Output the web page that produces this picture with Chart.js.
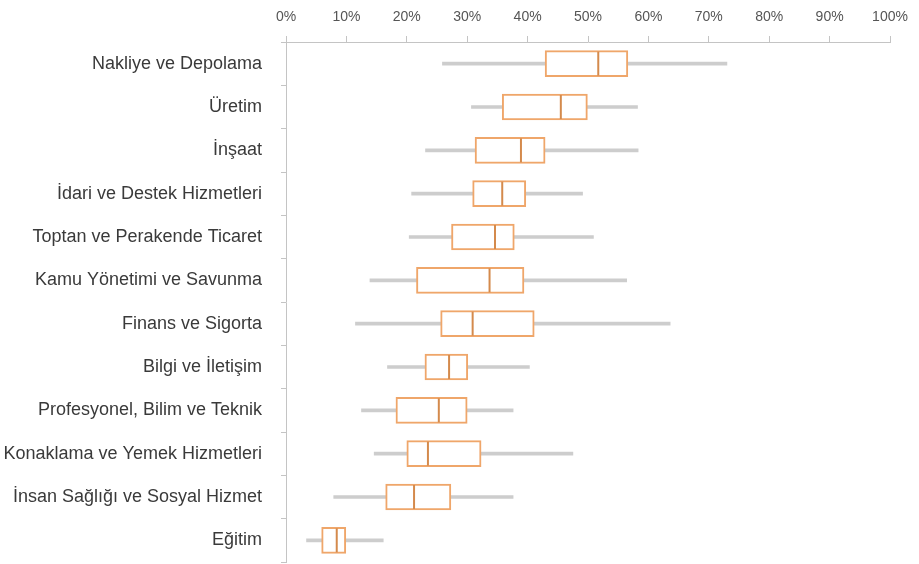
<!DOCTYPE html>
<html>
<head>
<meta charset="utf-8">
<script src="https://cdn.jsdelivr.net/npm/chart.js@4"></script>
<style>
  html, body { margin: 0; padding: 0; background: #ffffff; }
  #wrap { width: 919px; height: 564px; }
</style>
</head>
<body>
<div id="wrap"><canvas id="c" width="919" height="564"></canvas></div>
<script>
// Sectors, top to bottom
const sectors = [
  'Nakliye ve Depolama',
  'Üretim',
  'İnşaat',
  'İdari ve Destek Hizmetleri',
  'Toptan ve Perakende Ticaret',
  'Kamu Yönetimi ve Savunma',
  'Finans ve Sigorta',
  'Bilgi ve İletişim',
  'Profesyonel, Bilim ve Teknik',
  'Konaklama ve Yemek Hizmetleri',
  'İnsan Sağlığı ve Sosyal Hizmet',
  'Eğitim'
];

// Five-number summaries per sector (%)
const lowWhisker  = [25.9, 30.7, 23.1, 20.8, 20.4, 13.9, 11.5, 16.8, 12.5, 14.6,  7.9,  3.4];
const firstQuart  = [42.9, 35.8, 31.3, 30.9, 27.4, 21.6, 25.6, 23.0, 18.2, 20.0, 16.5,  5.9];
const medians     = [51.7, 45.5, 38.9, 35.8, 34.6, 33.7, 30.9, 27.0, 25.3, 23.5, 21.2,  8.4];
const thirdQuart  = [56.6, 49.9, 42.9, 39.7, 37.8, 39.4, 41.1, 30.1, 30.0, 32.3, 27.3,  9.9];
const highWhisker = [73.0, 58.2, 58.3, 49.1, 50.9, 56.4, 63.6, 40.3, 37.6, 47.5, 37.6, 16.1];

// Axis ticks (%)
const xTicks = [0, 10, 20, 30, 40, 50, 60, 70, 80, 90, 100];

const BOX_H = 26;

// Median strokes drawn across each box using the chart's own scales
const medianPlugin = {
  id: 'medianLines',
  afterDatasetsDraw(chart) {
    const { ctx, scales: { x, y } } = chart;
    ctx.save();
    ctx.strokeStyle = '#d48a4c';
    ctx.lineWidth = 2;
    medians.forEach((m, i) => {
      const px = x.getPixelForValue(m);
      const py = y.getPixelForValue(i);
      ctx.beginPath();
      ctx.moveTo(px, py - BOX_H / 2 + 1);
      ctx.lineTo(px, py + BOX_H / 2 - 1);
      ctx.stroke();
    });
    ctx.restore();
  }
};

new Chart(document.getElementById('c'), {
  type: 'bar',
  data: {
    labels: sectors,
    datasets: [
      {
        label: 'whisker',
        data: lowWhisker.map((v, i) => [v, highWhisker[i]]),
        backgroundColor: '#cdcdcd',
        borderWidth: 0,
        barThickness: 3,
        grouped: false,
        order: 2
      },
      {
        label: 'box',
        data: firstQuart.map((v, i) => [v, thirdQuart[i]]),
        backgroundColor: '#ffffff',
        borderColor: '#efa66a',
        borderWidth: 2,
        borderSkipped: false,
        barThickness: BOX_H,
        grouped: false,
        order: 1
      }
    ]
  },
  options: {
    indexAxis: 'y',
    responsive: false,
    devicePixelRatio: 1,
    animation: false,
    layout: { padding: { top: 0, right: 29, bottom: 2, left: 0 } },
    plugins: { legend: { display: false }, tooltip: { enabled: false } },
    scales: {
      x: {
        position: 'top',
        min: 0,
        max: 100,
        afterBuildTicks(scale) { scale.ticks = xTicks.map(v => ({ value: v })); },
        afterFit(scale) { scale.height = 42; },
        grid: { drawOnChartArea: false, tickLength: 6, color: '#c4c4c4' },
        border: { color: '#c4c4c4' },
        ticks: {
          padding: 10,
          color: '#555555',
          font: { family: "'Liberation Sans Narrow', 'Liberation Sans', sans-serif", size: 14 },
          callback: v => v + '%'
        }
      },
      y: {
        afterFit(scale) {
          scale.width = 286;
          scale.paddingTop = 0;
          scale.paddingBottom = 0;
        },
        grid: { drawOnChartArea: false, offset: true, tickLength: 5, color: '#c4c4c4' },
        border: { color: '#c4c4c4' },
        ticks: {
          padding: 19,
          color: '#3a3a3a',
          font: { family: "'Liberation Sans', sans-serif", size: 18 }
        }
      }
    }
  },
  plugins: [medianPlugin]
});
</script>
</body>
</html>
